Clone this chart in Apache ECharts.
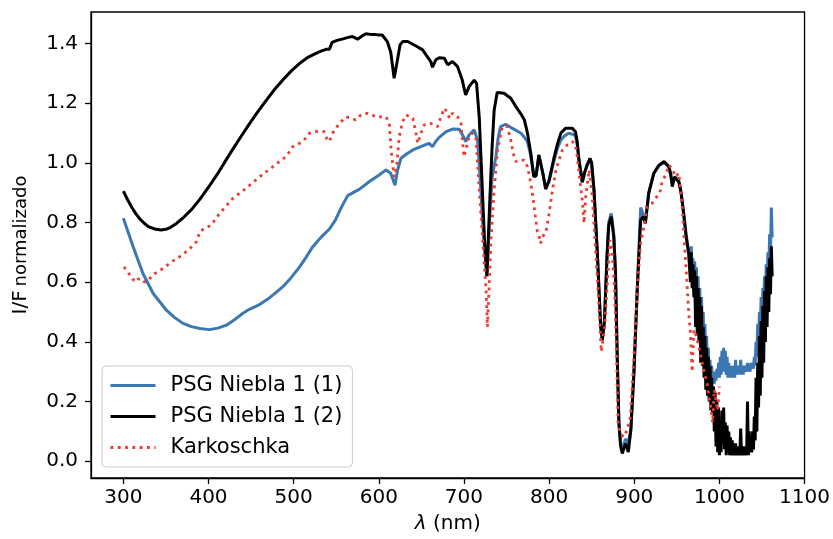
<!DOCTYPE html>
<html>
<head>
<meta charset="utf-8">
<script src="https://cdn.jsdelivr.net/npm/echarts@6/dist/echarts.min.js"></script>
<style>html,body{margin:0;padding:0;background:#fff}#c{width:833px;height:539px}</style>
</head>
<body>
<div id="c"></div>
<script>
const seriesNames = ['PSG Niebla 1 (1)', 'PSG Niebla 1 (2)', 'Karkoschka'];
const xTicks = [300, 400, 500, 600, 700, 800, 900, 1000, 1100];
const yTicks = [0.0, 0.2, 0.4, 0.6, 0.8, 1.0, 1.2, 1.4];

// PSG Niebla 1 (1) — blue
const wl1 = [300,311.5,323,335,350.6,360,370,380,389.7,401,411,421,430,440,448,458,468,477,487,497,507,515,522.5,532,542,549,555,563.5,573,577,589,600,608.5,614,619,622,626,633,640,650,659,663,667,671,679,686.6,694.5,699,702,706,712,716,719,722,725,727,730,733,737.5,740,743,749,757,767,771,774.5,778,782,785,788,790,793,796,800,806,810,813.7,818,823,828,831,833,835,839,842,845,848,850,852.7,856.6,860.6,862.5,865,868,870,873,876,878,880,882,884,886,888,890,893,896,899.6,903.5,907.5,909,911,913,917,923,929,935,940.7,944.6,947.4,952.4,955,958,961,964,
966,967,968,969,970,971,972,973,974,975,976,977,978,979,980,981,982,983,984,985,986,987,988,989,990,991,992,993,994,995,996,997,998,999,1000,1001,1002,1003,1004,1005,1006,1007,1008,1009,1010,1011,1012,1013,1014,1015,1016,1017,1018,1019,1020,1021,1022,1023,1024,1025,1026,1027,1028,1029,1030,1031,1032,1033,1034,1035,1036,1037,1038,1039,1040,1041,1042,1043,1044,1045,1046,1047,1048,1049,1050,1051,1052,1053,1054,1055,1056,1057,1058,1059,1060,1061,1062];
const val1 = [0.814,0.719,0.629,0.562,0.506,0.482,0.462,0.451,0.445,0.441,0.446,0.456,0.473,0.495,0.509,0.522,0.540,0.560,0.584,0.615,0.651,0.685,0.719,0.750,0.778,0.808,0.845,0.890,0.905,0.911,0.937,0.958,0.976,0.965,0.925,0.975,1.015,1.030,1.043,1.055,1.065,1.054,1.072,1.085,1.104,1.113,1.112,1.090,1.071,1.093,1.110,1.076,0.950,0.800,0.680,0.620,0.800,0.950,1.020,1.080,1.121,1.129,1.115,1.099,1.085,1.071,1.030,0.955,0.960,1.026,1.020,0.960,0.912,0.940,1.009,1.050,1.076,1.090,1.099,1.095,1.090,1.060,1.010,0.935,0.970,0.995,1.010,0.990,0.909,0.700,0.450,0.410,0.470,0.690,0.800,0.830,0.760,0.630,0.350,0.130,0.060,0.045,0.060,0.075,0.060,0.110,0.300,0.580,0.850,0.840,0.820,0.800,0.900,0.965,0.990,1.000,0.985,0.930,0.950,0.935,0.900,0.830,0.760,0.700,
0.62,0.72,0.60,0.68,0.57,0.67,0.50,0.65,0.48,0.62,0.45,0.58,0.40,0.55,0.38,0.50,0.35,0.46,0.32,0.42,0.30,0.38,0.28,0.34,0.27,0.32,0.26,0.30,0.26,0.30,0.27,0.31,0.28,0.33,0.28,0.35,0.29,0.37,0.30,0.38,0.30,0.37,0.29,0.35,0.28,0.33,0.28,0.32,0.28,0.32,0.28,0.32,0.28,0.34,0.29,0.32,0.29,0.32,0.29,0.34,0.29,0.32,0.29,0.32,0.30,0.32,0.30,0.33,0.30,0.32,0.30,0.33,0.31,0.33,0.31,0.35,0.32,0.40,0.35,0.46,0.40,0.50,0.44,0.55,0.48,0.58,0.52,0.62,0.56,0.66,0.60,0.70,0.64,0.76,0.70,0.85,0.75];

// PSG Niebla 1 (2) — black
const wl2 = [300,305,310,315,320,325,330,337,344,350,355,362,370,380,390,400,410,419,428,438,448,458,468,478,488,497,507,516,525,532,538,542,545,551,558,564,569,575,580,585,590,595,600,604,610,614,618,621,625,628,634,643.7,651.5,661,663,667,671,677,681,686.6,692.5,698,702,706,712,714.8,718,721,724,727,730,733,735.5,739,741,747,755,761,767,771,774.6,778.5,782,784.5,788,790,793,796,800,806,810,814,819.6,827,831,833,835,839,842,845,848,850,852.7,856.6,860.6,862.5,865,868,870,873,876,878,880,882,884,886,888,890,893,896,899.6,903.5,907.5,910.6,913,917,923,929,935,940.7,943,944.6,947.4,952.4,955,958,961,964,
966,967,968,969,970,971,972,973,974,975,976,977,978,979,980,981,982,983,984,985,986,987,988,989,990,991,992,993,994,995,996,997,998,999,1000,1001,1002,1003,1004,1005,1006,1007,1008,1009,1010,1011,1012,1013,1014,1015,1016,1017,1018,1019,1020,1021,1022,1023,1024,1025,1026,1027,1028,1029,1030,1031,1032,1033,1034,1035,1036,1037,1038,1039,1040,1041,1042,1043,1044,1045,1046,1047,1048,1049,1050,1051,1052,1053,1054,1055,1056,1057,1058,1059,1060,1061,1062];
const val2 = [0.905,0.876,0.850,0.828,0.810,0.796,0.785,0.778,0.775,0.777,0.783,0.796,0.815,0.843,0.878,0.918,0.960,1.002,1.043,1.087,1.130,1.171,1.210,1.247,1.280,1.307,1.333,1.352,1.365,1.374,1.380,1.380,1.403,1.410,1.415,1.420,1.423,1.414,1.424,1.432,1.430,1.430,1.428,1.428,1.406,1.370,1.283,1.330,1.395,1.406,1.406,1.391,1.378,1.339,1.320,1.345,1.352,1.350,1.328,1.339,1.322,1.277,1.227,1.255,1.277,1.266,1.150,0.950,0.750,0.620,0.850,1.050,1.177,1.235,1.238,1.233,1.216,1.188,1.163,1.143,1.099,1.032,0.955,0.955,1.026,1.020,0.960,0.912,0.940,1.020,1.065,1.100,1.116,1.116,1.104,1.070,1.010,0.935,0.970,0.995,1.015,1.000,0.909,0.700,0.450,0.405,0.470,0.685,0.790,0.819,0.750,0.629,0.350,0.126,0.050,0.026,0.045,0.059,0.031,0.104,0.294,0.573,0.808,0.819,0.797,0.898,0.965,0.992,1.004,0.987,0.960,0.920,0.953,0.937,0.900,0.830,0.750,0.696,
0.60,0.70,0.58,0.66,0.55,0.64,0.45,0.62,0.42,0.58,0.40,0.55,0.33,0.52,0.32,0.45,0.28,0.42,0.24,0.38,0.22,0.35,0.20,0.32,0.17,0.28,0.16,0.25,0.10,0.23,0.05,0.20,0.03,0.18,0.02,0.12,0.03,0.17,0.06,0.18,0.04,0.13,0.02,0.12,0.03,0.10,0.02,0.08,0.02,0.07,0.02,0.06,0.02,0.06,0.02,0.05,0.02,0.05,0.02,0.11,0.02,0.05,0.02,0.05,0.02,0.04,0.02,0.20,0.02,0.10,0.03,0.06,0.03,0.10,0.04,0.15,0.07,0.28,0.10,0.33,0.18,0.42,0.22,0.47,0.28,0.52,0.33,0.57,0.40,0.62,0.45,0.65,0.50,0.68,0.56,0.72,0.62];

// Karkoschka — red dotted
const wl3 = [300.6,304,307.6,313.5,317,321,325,329,337,346.7,356.5,366,376,385.8,390,395.5,403,413,428.7,444,460,475.6,485.5,491,499,510.8,518.6,530,536,539,542,545,548,553.8,561.6,567,573,579,587,597,608.5,612.4,614.4,618,621,624,628,632,636,640,643.7,645.6,649.6,653.5,661,665,669,673,677,681,683,686.6,692.5,696.5,700,702,706,710,714,718,722,726,727.6,729.7,731.7,735.5,739.4,745,751,755,757.8,761,765,770.7,774.6,778.5,781.5,784.4,786.3,788,790,792,796,800,804,808,811.7,815.6,821.5,827.3,831,833,837,839,841,843,847,850.7,854.7,858.6,861.3,865.3,869,871.5,874,877,879.3,881,884,887.6,891.5,895.5,899.6,903.5,907.4,911.3,915,921,925,930,932.8,936.8,940.7,944.5,948.5,952.4,956.3,958.2,960,962,964,966,968,970,973,976,979,982,985,988,990,992,994,996,998,1000];
const val3 = [0.651,0.640,0.624,0.601,0.610,0.612,0.600,0.607,0.629,0.646,0.668,0.685,0.707,0.735,0.770,0.780,0.791,0.830,0.881,0.914,0.953,0.987,1.009,1.020,1.054,1.071,1.099,1.107,1.104,1.080,1.071,1.095,1.110,1.132,1.154,1.150,1.143,1.160,1.166,1.154,1.154,1.132,1.043,0.953,0.987,1.087,1.138,1.160,1.155,1.149,1.099,1.065,1.099,1.127,1.132,1.125,1.121,1.154,1.183,1.166,1.149,1.166,1.154,1.132,1.020,1.043,1.087,1.099,1.087,0.909,0.741,0.573,0.450,0.596,0.741,0.909,1.043,1.121,1.121,1.076,1.032,1.004,1.009,1.009,0.987,0.931,0.875,0.808,0.769,0.758,0.730,0.752,0.763,0.830,0.909,0.976,1.009,1.043,1.060,1.071,1.060,1.020,0.920,0.875,0.797,0.886,0.976,0.886,0.707,0.517,0.367,0.450,0.629,0.741,0.707,0.573,0.350,0.126,0.093,0.081,0.104,0.149,0.350,0.573,0.730,0.786,0.853,0.864,0.881,0.898,0.937,0.959,0.992,0.981,0.953,0.965,0.853,0.764,0.685,0.596,0.495,0.428,0.300,0.440,0.420,0.380,0.340,0.300,0.270,0.210,0.180,0.130,0.240,0.200,0.170,0.250];

const pairs = (xs, ys) => xs.map((x, i) => [x, ys[i]]);
const FONT = 'DejaVu Sans';
const FS = 20;

const chart = echarts.init(document.getElementById('c'), null, {renderer: 'canvas'});
chart.setOption({
  animation: false,
  backgroundColor: '#fff',
  textStyle: {fontFamily: FONT},
  grid: {left: 91, right: 28, top: 12, bottom: 61, show: true, borderColor: '#000', borderWidth: 1.3, backgroundColor: 'transparent'},
  xAxis: {
    type: 'value', min: 262, max: 1100,
    name: '{i|λ} (nm)', nameLocation: 'middle', nameGap: 36,
    nameTextStyle: {fontFamily: FONT, fontSize: FS, color: '#000', rich: {i: {fontStyle: 'italic', fontFamily: FONT, fontSize: FS, color: '#000'}}},
    axisLine: {show: true, onZero: false, lineStyle: {color: '#000', width: 1.3}},
    axisTick: {show: true, length: 6, lineStyle: {color: '#000', width: 1.3}, customValues: xTicks},
    axisLabel: {customValues: xTicks, fontFamily: FONT, fontSize: FS, color: '#000', margin: 10, formatter: v => String(v)},
    splitLine: {show: false}
  },
  yAxis: {
    type: 'value', min: -0.056, max: 1.505,
    name: '{a|I/F} {b|normalizado}', nameLocation: 'middle', nameGap: 60,
    nameTextStyle: {rich: {a: {fontFamily: FONT, fontSize: 20, color: '#000'}, b: {fontFamily: FONT, fontSize: 18, color: '#000'}}},
    axisLine: {show: true, onZero: false, lineStyle: {color: '#000', width: 1.3}},
    axisTick: {show: true, length: 6, lineStyle: {color: '#000', width: 1.3}, customValues: yTicks},
    axisLabel: {customValues: yTicks, fontFamily: FONT, fontSize: FS, color: '#000', margin: 13, formatter: v => v.toFixed(1)},
    splitLine: {show: false}
  },
  legend: {
    orient: 'vertical', left: 102, top: 366,
    padding: [9, 10, 9, 7], itemGap: 10, itemWidth: 45, itemHeight: 14,
    backgroundColor: 'rgba(255,255,255,0.8)', borderColor: '#cccccc', borderWidth: 1, borderRadius: 4,
    itemStyle: {opacity: 0},
    lineStyle: {width: 3},
    textStyle: {fontFamily: FONT, fontSize: 21, color: '#000', padding: [0, 0, 0, 10]},
    data: seriesNames
  },
  series: [
    {name: seriesNames[0], type: 'line', data: pairs(wl1, val1), showSymbol: false, symbol: 'none', lineStyle: {color: '#3b77b3', width: 3}, itemStyle: {color: '#3b77b3'}},
    {name: seriesNames[1], type: 'line', data: pairs(wl2, val2), showSymbol: false, symbol: 'none', lineStyle: {color: '#000', width: 3}, itemStyle: {color: '#000'}},
    {name: seriesNames[2], type: 'line', data: pairs(wl3, val3), showSymbol: false, symbol: 'none', lineStyle: {color: '#ee3b2f', width: 2.8, type: [2.8, 4.5], cap: 'butt'}, itemStyle: {color: '#ee3b2f'}}
  ]
});
</script>
</body>
</html>
